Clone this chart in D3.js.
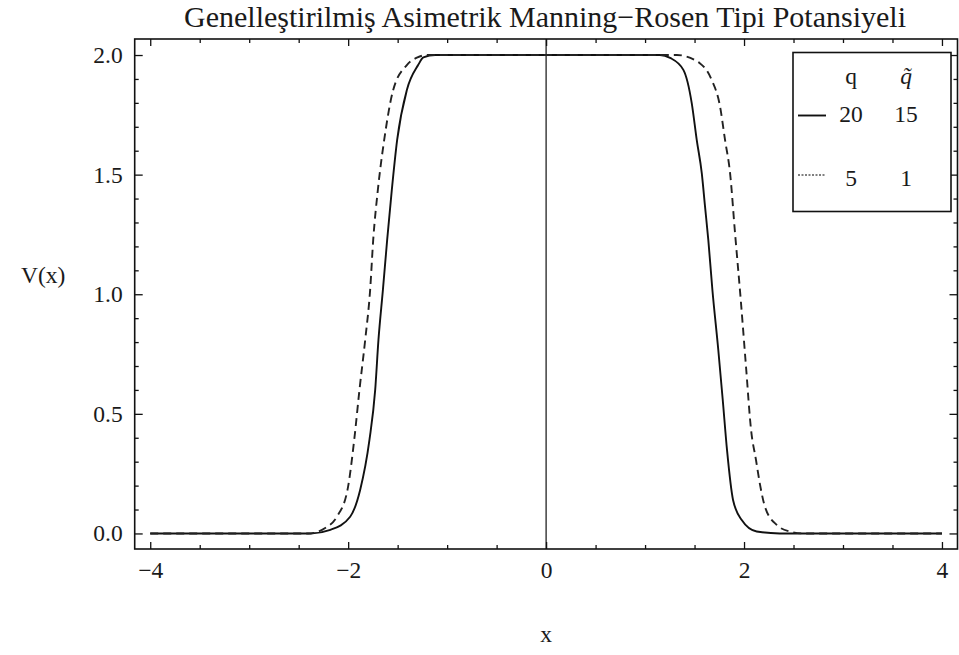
<!DOCTYPE html>
<html>
<head>
<meta charset="utf-8">
<script src="https://cdn.jsdelivr.net/npm/d3@7"></script>
<style>
  body { margin: 0; background: #fff; }
  text { font-family: "Liberation Serif", "DejaVu Serif", serif; fill: #1a1a1a; }
</style>
</head>
<body>
<div id="chart"></div>
<script>
// Chart data (x, V(x))
var solidX = [-4, -2.38, -2.18, -1.98, -1.879, -1.785, -1.727, -1.694, -1.649, -1.606, -1.559, -1.505, -1.407, -1.293, -1.24, -1.12,
  1.15, 1.253, 1.387, 1.472, 1.522, 1.573, 1.606, 1.639, 1.68, 1.74, 1.785, 1.828, 1.889, 1.977, 2.128, 2.36, 4];
var solidV = [0, 0, 0.015, 0.07, 0.182, 0.391, 0.6, 0.809, 1.018, 1.227, 1.436, 1.645, 1.854, 1.958, 1.99, 2.0,
  2.0, 1.988, 1.938, 1.798, 1.645, 1.506, 1.366, 1.227, 1.02, 0.767, 0.558, 0.349, 0.14, 0.056, 0.008, 0, 0];

var dashedX = [-4, -2.4, -2.232, -2.114, -2.007, -1.939, -1.886, -1.828, -1.778, -1.747, -1.7, -1.636, -1.545, -1.407, -1.3, -1.2,
  1.32, 1.556, 1.674, 1.758, 1.808, 1.859, 1.909, 1.967, 2.02, 2.071, 2.121, 2.162, 2.212, 2.33, 2.465, 2.6, 4];
var dashedV = [0, 0, 0.023, 0.07, 0.182, 0.391, 0.6, 0.809, 1.018, 1.227, 1.436, 1.645, 1.854, 1.958, 1.99, 2.0,
  2.0, 1.965, 1.895, 1.784, 1.645, 1.506, 1.256, 0.976, 0.697, 0.433, 0.307, 0.203, 0.111, 0.036, 0.008, 0, 0];

// Tick values
var xMajor = [-4, -2, 0, 2, 4];
var xMinor = [-3.5, -3, -2.5, -1.5, -1, -0.5, 0.5, 1, 1.5, 2.5, 3, 3.5];
var yMajor = [0, 0.5, 1.0, 1.5, 2.0];
var yMinor = [0.1, 0.2, 0.3, 0.4, 0.6, 0.7, 0.8, 0.9, 1.1, 1.2, 1.3, 1.4, 1.6, 1.7, 1.8, 1.9];

// Legend rows
var legendHead = ["q", "q\u0303"];
var legendRows = [["20", "15"], ["5", "1"]];

var titleText = "Genelleştirilmiş Asimetrik Manning\u2212Rosen Tipi Potansiyeli";

// svg size and margins
var svgWidth = 959;
var svgHeight = 655;
var margin = { top: 39, right: 1.5, bottom: 106, left: 134.7 };
var width = svgWidth - margin.left - margin.right;
var height = svgHeight - margin.top - margin.bottom;

var svg = d3.select("#chart")
  .append("svg")
  .attr("width", svgWidth)
  .attr("height", svgHeight);

var chartGroup = svg.append("g")
  .attr("transform", `translate(${margin.left}, ${margin.top})`);

// scales (Mathematica style padding around the data range)
var xScale = d3.scaleLinear()
  .domain([-4.157, 4.157])
  .range([0, width]);
var yScale = d3.scaleLinear()
  .domain([-0.065, 2.067])
  .range([height, 0]);

var fmtMinus = d => (d < 0 ? "\u2212" + Math.abs(d) : "" + d);

// major + minor ticks on every side, pointing inward
function addAxis(axis, transform) {
  var g = chartGroup.append("g")
    .attr("transform", transform)
    .call(axis);
  g.select(".domain").remove();
  g.selectAll("line").attr("stroke", "#111").attr("stroke-width", 1.3);
  g.selectAll("text")
    .style("font-size", "23.5px")
    .style("font-family", "'Liberation Serif', serif")
    .attr("fill", "#1a1a1a");
  return g;
}

addAxis(d3.axisBottom(xScale).tickValues(xMajor).tickSize(-7).tickPadding(12).tickFormat(fmtMinus), `translate(0, ${height})`);
addAxis(d3.axisBottom(xScale).tickValues(xMinor).tickSize(-4).tickFormat(""), `translate(0, ${height})`);
addAxis(d3.axisTop(xScale).tickValues(xMajor).tickSize(-7).tickFormat(""), "translate(0, 0)");
addAxis(d3.axisTop(xScale).tickValues(xMinor).tickSize(-4).tickFormat(""), "translate(0, 0)");

addAxis(d3.axisLeft(yScale).tickValues(yMajor).tickSize(-8).tickPadding(12).tickFormat(d3.format(".1f")), "translate(0, 0)");
addAxis(d3.axisLeft(yScale).tickValues(yMinor).tickSize(-4).tickFormat(""), "translate(0, 0)");
addAxis(d3.axisRight(yScale).tickValues(yMajor).tickSize(-8).tickFormat(""), `translate(${width}, 0)`);
addAxis(d3.axisRight(yScale).tickValues(yMinor).tickSize(-4).tickFormat(""), `translate(${width}, 0)`);

// frame
chartGroup.append("rect")
  .attr("x", 0)
  .attr("y", 0)
  .attr("width", width)
  .attr("height", height)
  .attr("fill", "none")
  .attr("stroke", "#111")
  .attr("stroke-width", 1.6);

// vertical axis line at x = 0
chartGroup.append("line")
  .attr("x1", xScale(0))
  .attr("x2", xScale(0))
  .attr("y1", 0)
  .attr("y2", height)
  .attr("stroke", "#111")
  .attr("stroke-width", 1.2);

// curves
var lineGen = d3.line()
  .x(d => xScale(d[0]))
  .y(d => yScale(d[1]))
  .curve(d3.curveMonotoneX);

chartGroup.append("path")
  .datum(solidX.map((x, i) => [x, solidV[i]]))
  .attr("d", lineGen)
  .attr("fill", "none")
  .attr("stroke", "#111")
  .attr("stroke-width", 1.9);

chartGroup.append("path")
  .datum(dashedX.map((x, i) => [x, dashedV[i]]))
  .attr("d", lineGen)
  .attr("fill", "none")
  .attr("stroke", "#222")
  .attr("stroke-width", 1.9)
  .attr("stroke-dasharray", "8,5");

// title
svg.append("text")
  .attr("x", 545)
  .attr("y", 27)
  .attr("text-anchor", "middle")
  .style("font-size", "30px")
  .text(titleText);

// axis labels
svg.append("text")
  .attr("x", 21)
  .attr("y", 283)
  .style("font-size", "23.5px")
  .text("V(x)");

svg.append("text")
  .attr("x", 546)
  .attr("y", 642)
  .attr("text-anchor", "middle")
  .style("font-size", "23.5px")
  .text("x");

// legend
var legend = svg.append("g");
legend.append("rect")
  .attr("x", 793)
  .attr("y", 52.5)
  .attr("width", 158)
  .attr("height", 159)
  .attr("fill", "#fff")
  .attr("stroke", "#111")
  .attr("stroke-width", 1.6);

var colX = [851, 906];
legend.selectAll(".head")
  .data(legendHead)
  .enter()
  .append("text")
  .attr("x", (d, i) => colX[i])
  .attr("y", 84)
  .attr("text-anchor", "middle")
  .style("font-size", "23.5px")
  .style("font-style", (d, i) => (i == 1 ? "italic" : "normal"))
  .text(d => d);

var rowY = [122, 186];
legendRows.forEach(function (row, r) {
  legend.selectAll(".row" + r)
    .data(row)
    .enter()
    .append("text")
    .attr("x", (d, i) => colX[i])
    .attr("y", rowY[r])
    .attr("text-anchor", "middle")
    .style("font-size", "23.5px")
    .text(d => d);
});

legend.append("line")
  .attr("x1", 798).attr("x2", 826)
  .attr("y1", 115.5).attr("y2", 115.5)
  .attr("stroke", "#111")
  .attr("stroke-width", 1.9);

legend.append("line")
  .attr("x1", 798).attr("x2", 826)
  .attr("y1", 175).attr("y2", 175)
  .attr("stroke", "#555")
  .attr("stroke-width", 1.6)
  .attr("stroke-dasharray", "2,1.5");
</script>
</body>
</html>
